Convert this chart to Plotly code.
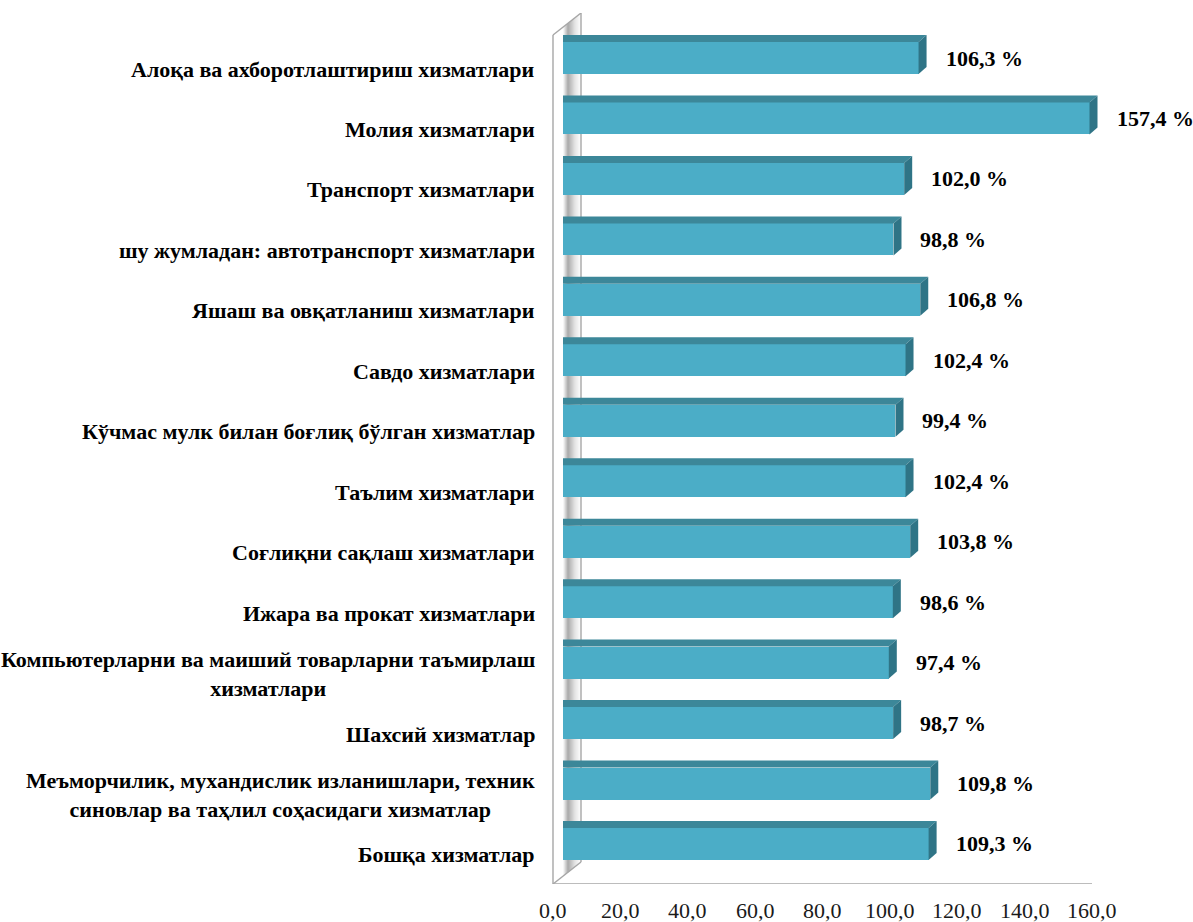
import plotly.graph_objects as go

categories = [
    "Алоқа ва ахборотлаштириш хизматлари",
    "Молия хизматлари",
    "Транспорт хизматлари",
    "шу жумладан: автотранспорт хизматлари",
    "Яшаш ва овқатланиш хизматлари",
    "Савдо хизматлари",
    "Кўчмас мулк билан боғлиқ бўлган хизматлар",
    "Таълим хизматлари",
    "Соғлиқни сақлаш хизматлари",
    "Ижара ва прокат хизматлари",
    "Компьютерларни ва маиший товарларни таъмирлаш<br>хизматлари",
    "Шахсий хизматлар",
    "Меъморчилик, мухандислик изланишлари, техник<br>синовлар ва таҳлил соҳасидаги хизматлар",
    "Бошқа хизматлар",
]
values = [106.3, 157.4, 102.0, 98.8, 106.8, 102.4, 99.4, 102.4, 103.8, 98.6, 97.4, 98.7, 109.8, 109.3]
tick_values = [0, 20, 40, 60, 80, 100, 120, 140, 160]
tick_labels = ["0,0", "20,0", "40,0", "60,0", "80,0", "100,0", "120,0", "140,0", "160,0"]
value_labels = [f"{v:.1f}".replace(".", ",") + " %" for v in values]

# ---- layout geometry (pixels) ----
W, H = 1193, 922
X0_PX = 563.0          # pixel of value 0 (bar front)
SX = 3.345             # pixels per unit
ROW0_PX = 58.0         # pixel of first row centre
SY = 60.46             # pixels per row
L_PX, R_PX = 550.0, 1098.0
T_PX, B_PX = 13.0, 884.0

def ux(px):
    return (px - X0_PX) / SX

def uy(py):
    return (py - ROW0_PX) / SY

xr = [ux(L_PX), ux(R_PX)]
yr = [uy(B_PX), uy(T_PX)]

FRONT = "#4BADC7"
TOPC = "#3C8799"
CAP = "#2F7486"
GRID = "#A6A6A6"
serif = "Liberation Serif, Times New Roman, serif"

n = len(categories)
idx = list(range(n))
half = 16.0 / SY
ddx = 8.0 / SX
ddy = 7.0 / SY

fig = go.Figure()

# bars (front face)
fig.add_trace(go.Bar(
    x=values, y=idx, orientation="h", width=2 * half,
    marker=dict(color=FRONT, line=dict(width=0)),
    hoverinfo="skip", showlegend=False))

shapes = []

# ---- back wall: thin strips emulating a gradient ----
WF, WB = 553.0, 581.0
TOP_F, TOP_B, BOT_F, BOT_B = 35.0, 13.0, 884.0, 862.0
stops = [(553, (255, 255, 255)), (563, (255, 255, 255)), (568, (170, 170, 170)),
         (575, (228, 228, 228)), (581, (255, 255, 255))]

def col_at(px):
    for (a, ca), (b, cb) in zip(stops[:-1], stops[1:]):
        if a <= px <= b:
            t = (px - a) / (b - a) if b > a else 0
            c = [round(ca[k] + (cb[k] - ca[k]) * t) for k in range(3)]
            return f"rgb({c[0]},{c[1]},{c[2]})"
    return "white"

def wall_y(px, yf, yb):
    return yf + (yb - yf) * (px - WF) / (WB - WF)

p = WF
while p < WB:
    q = min(p + 1.0, WB)
    path = (f"M {ux(p)},{uy(wall_y(p, TOP_F, TOP_B))} L {ux(q + 0.3)},{uy(wall_y(q, TOP_F, TOP_B))} "
            f"L {ux(q + 0.3)},{uy(wall_y(q, BOT_F, BOT_B))} L {ux(p)},{uy(wall_y(p, BOT_F, BOT_B))} Z")
    shapes.append(dict(type="path", xref="x", yref="y", layer="below", path=path,
                       fillcolor=col_at((p + q) / 2), line=dict(width=0)))
    p = q

def seg(x0, y0, x1, y1, w=1.4):
    shapes.append(dict(type="line", xref="x", yref="y", layer="below",
                       x0=ux(x0), y0=uy(y0), x1=ux(x1), y1=uy(y1),
                       line=dict(color=GRID, width=w)))

seg(WF, TOP_F, WF, BOT_F)
seg(WF, TOP_F, WB, TOP_B)
seg(WB, TOP_B, WB, BOT_B)
seg(WF, BOT_F, WB, BOT_B)
seg(WF, BOT_F, 1092, BOT_F, 1.6)

# ---- 3D faces of each bar ----
for i, v in enumerate(values):
    top = i - half
    bot = i + half
    shapes.append(dict(type="path", xref="x", yref="y", layer="above",
                       path=f"M 0,{top} L {v},{top} L {v+ddx},{top-ddy} L 0,{top-ddy} Z",
                       fillcolor=TOPC, line=dict(width=0)))
    shapes.append(dict(type="path", xref="x", yref="y", layer="above",
                       path=f"M {v},{top} L {v+ddx},{top-ddy} L {v+ddx},{bot-ddy} L {v},{bot} Z",
                       fillcolor=CAP, line=dict(width=0)))

annotations = []
for i, (c, v, lab) in enumerate(zip(categories, values, value_labels)):
    annotations.append(dict(x=0, y=i, xref="x", yref="y", text=f"<b>{c}</b>",
                            xanchor="right", yanchor="middle", align="center",
                            xshift=-26, yshift=-11, showarrow=False,
                            font=dict(family=serif, size=22, color="#000000")))
    annotations.append(dict(x=v, y=i, xref="x", yref="y", text=f"<b>{lab}</b>",
                            xanchor="left", yanchor="middle", xshift=25,
                            showarrow=False,
                            font=dict(family=serif, size=22, color="#000000")))

f0, f1 = ux(553), ux(1092)
for tv, tl in zip(tick_values, tick_labels):
    annotations.append(dict(x=f0 + tv * (f1 - f0) / 160.0, y=0, xref="x", yref="paper",
                            text=tl, xanchor="center", yanchor="middle", yshift=-26,
                            showarrow=False,
                            font=dict(family=serif, size=22, color="#1a1a1a")))

fig.update_layout(
    width=W, height=H,
    margin=dict(l=L_PX, r=W - R_PX, t=T_PX, b=H - B_PX, pad=0),
    paper_bgcolor="white", plot_bgcolor="white",
    xaxis=dict(range=xr, visible=False, fixedrange=True),
    yaxis=dict(range=yr, visible=False, fixedrange=True),
    shapes=shapes, annotations=annotations,
    bargap=0, showlegend=False,
)

fig.write_html("out.html", config={"displayModeBar": False},
               post_script="document.body.style.margin='0';document.body.style.overflow='hidden';")
